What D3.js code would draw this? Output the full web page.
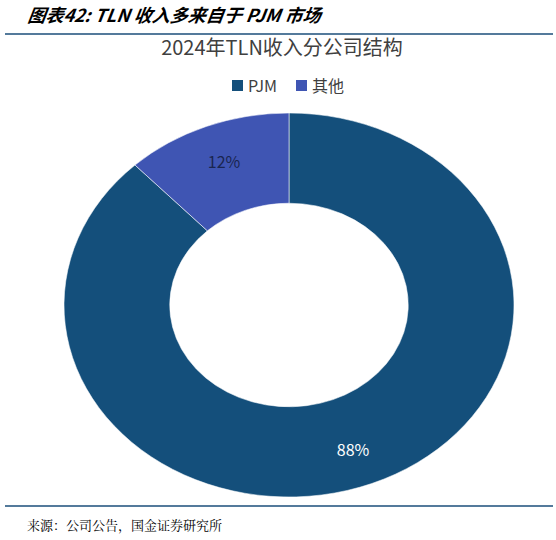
<!DOCTYPE html><html><head><meta charset="utf-8"><script src="https://cdn.jsdelivr.net/npm/d3@7"></script>
<style>body{margin:0;background:#fff}</style></head><body><svg id="c" width="556" height="540"></svg>
<script>
const categories=["PJM","其他"];
const values=[88,12];
const labels=["88%","12%"];
const colors=["#144f7b","#3f55b3"];
const svg=d3.select("#c");
const F="'Noto Sans CJK SC','Liberation Sans',sans-serif";
svg.append("text").attr("x",27).attr("y",22).attr("font-family",F).attr("font-size",18).attr("font-weight","bold").attr("font-style","italic").attr("fill","#000").attr("transform","skewX(-8) translate(3,0)").text("图表42:  TLN 收入多来自于 PJM 市场");
svg.append("line").attr("x1",5).attr("x2",553).attr("y1",34).attr("y2",34).attr("stroke","#1b4e7a").attr("stroke-width",1.5);
svg.append("line").attr("x1",5).attr("x2",553).attr("y1",506).attr("y2",506).attr("stroke","#1b4e7a").attr("stroke-width",1.5);
svg.append("text").attr("x",282).attr("y",55).attr("text-anchor","middle").attr("font-family",F).attr("font-size",20).attr("fill","#404040").text("2024年TLN收入分公司结构");
svg.append("text").attr("x",27).attr("y",530).attr("font-family","'Noto Serif CJK SC','Noto Sans CJK SC',serif").attr("font-size",13).attr("fill","#000").text("来源：公司公告，国金证券研究所");
const lg=[{x:232,i:0},{x:296,i:1}];
lg.forEach(d=>{svg.append("rect").attr("x",d.x).attr("y",80).attr("width",11).attr("height",11).attr("fill",colors[d.i]);
svg.append("text").attr("x",d.x+16).attr("y",92).attr("font-family",F).attr("font-size",16).attr("fill","#404040").text(categories[d.i]);});
const R=192,sx=225/192;
const g=svg.append("g").attr("transform",`translate(289,305) scale(${sx},1)`);
const pie=d3.pie().sort(null).value(d=>d)(values);
const arc=d3.arc().innerRadius(R*0.53).outerRadius(R);
g.selectAll("path").data(pie).join("path").attr("d",arc).attr("fill",(d,i)=>colors[i]).attr("stroke","#fff").attr("stroke-width",0.5);
const lab=d3.arc().innerRadius(R*0.8).outerRadius(R*0.8);
const pos=[[353,449],[224,161]];
pie.forEach((d,i)=>{svg.append("text").attr("x",pos[i][0]).attr("y",pos[i][1]).attr("text-anchor","middle").attr("dominant-baseline","central").attr("font-family",F).attr("font-size",16).attr("fill",i==0?"#fff":"#1a2550").text(labels[i]);});
</script></body></html>
